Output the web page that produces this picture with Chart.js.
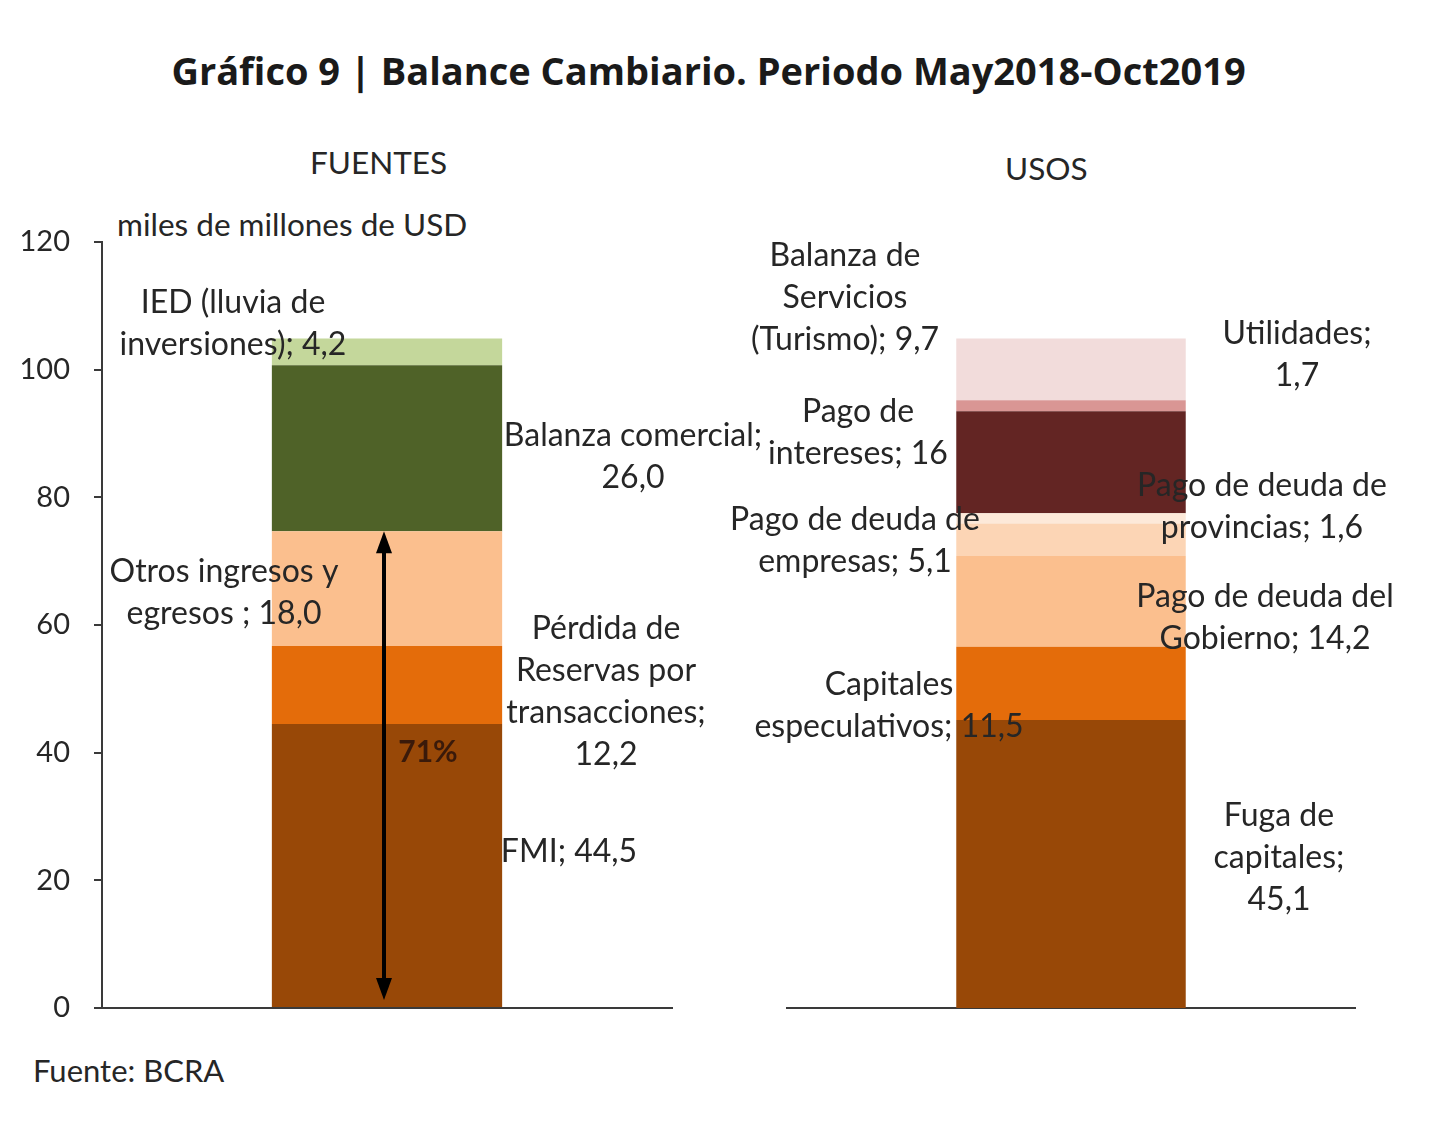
<!DOCTYPE html>
<html lang="es">
<head>
<meta charset="utf-8">
<script src="https://cdn.jsdelivr.net/npm/chart.js@4.4.1/dist/chart.umd.min.js"></script>
<style>
  html, body { margin: 0; padding: 0; background: #fff; }
  body { width: 1440px; height: 1137px; position: relative; overflow: hidden; font-family: Lato, sans-serif; color: #262626; }
  .wrap { position: absolute; left: 0; top: 0; width: 1440px; height: 1137px; }
  .txt { position: absolute; white-space: nowrap; line-height: 40px; }
  #title { left: 0; width: 1417px; top: 47px; text-align: center; font-family: 'Open Sans', sans-serif; font-weight: 700; font-size: 38px; color: #1a1a1a; line-height: 46px; }
  #fuentes { left: 310px; top: 142px; font-size: 31.5px; }
  #usos { left: 1005px; top: 148px; font-size: 31.5px; }
  #unit { left: 117px; top: 204px; font-size: 31.5px; }
  #source { left: 33px; top: 1050px; font-size: 31px; }
</style>
</head>
<body>
<div class="txt" id="title">Gráfico 9 | Balance Cambiario. Periodo May2018-Oct2019</div>
<div class="txt" id="fuentes">FUENTES</div>
<div class="txt" id="usos">USOS</div>
<div class="txt" id="unit">miles de millones de USD</div>
<div class="txt" id="source">Fuente: BCRA</div>
<div class="wrap"><canvas id="fuentesChart"></canvas></div>
<div class="wrap"><canvas id="usosChart"></canvas></div>
<script>
// Escala común (miles de millones de USD)
const yMax = 120;
const yStep = 20;

// FUENTES (de abajo hacia arriba)
const fuentesNames = ['FMI', 'Pérdida de Reservas por transacciones', 'Otros ingresos y egresos', 'Balanza comercial', 'IED (lluvia de inversiones)'];
const fuentesValues = [44.5, 12.2, 18.0, 26.0, 4.2];
const fuentesColors = ['#984807', '#e46c0a', '#fbbf8e', '#4f6228', '#c4d79b'];
const fuentesText = [
    ['FMI; 44,5'],
    ['Pérdida de', 'Reservas por', 'transacciones;', '12,2'],
    ['Otros ingresos y', 'egresos ; 18,0'],
    ['Balanza comercial;', '26,0'],
    ['IED (lluvia de', 'inversiones); 4,2']
];
const shareText = '71%';

// USOS (de abajo hacia arriba)
const usosNames = ['Fuga de capitales', 'Capitales especulativos', 'Pago de deuda del Gobierno', 'Pago de deuda de empresas', 'Pago de deuda de provincias', 'Pago de intereses', 'Utilidades', 'Balanza de Servicios (Turismo)'];
const usosValues = [45.1, 11.5, 14.2, 5.1, 1.6, 16, 1.7, 9.7];
const usosColors = ['#984807', '#e46c0a', '#fbbf8e', '#fcd5b5', '#fde9d9', '#632523', '#d99694', '#f2dcdb'];
const usosText = [
    ['Fuga de', 'capitales;', '45,1'],
    ['Capitales', 'especulativos; 11,5'],
    ['Pago de deuda del', 'Gobierno; 14,2'],
    ['Pago de deuda de', 'empresas; 5,1'],
    ['Pago de deuda de', 'provincias; 1,6'],
    ['Pago de', 'intereses; 16'],
    ['Utilidades;', '1,7'],
    ['Balanza de', 'Servicios', '(Turismo); 9,7']
];

// where each label sits: [x offset from bar centre in px, y value of the block centre]
const fuentesPlacement = [[182, 24.5], [219, 49.6], [-163, 65.1], [246, 86.3], [-154, 107.2]];
const usosPlacement = [[208, 23.5], [-182, 47.4], [194, 61.1], [-216, 73.2], [191, 78.5], [-213, 90.1], [226, 102.3], [-226, 111.2]];

const labelFont = "32px Lato, sans-serif";
const axisColor = '#3a3a3a';

const segmentLabels = {
    id: 'segmentLabels',
    afterDatasetsDraw(chart, args, opts) {
        const ctx = chart.ctx;
        const yScale = chart.scales.y;
        const barX = chart.getDatasetMeta(0).data[0].x;
        ctx.save();
        ctx.fillStyle = '#262626';
        ctx.textAlign = 'center';
        ctx.textBaseline = 'middle';
        ctx.font = labelFont;
        opts.text.forEach((lines, i) => {
            const [dx, yv] = opts.placement[i];
            const cy = yScale.getPixelForValue(yv);
            lines.forEach((line, j) => {
                ctx.fillText(line, barX + dx, cy + (j - (lines.length - 1) / 2) * opts.lineHeight);
            });
        });
        if (opts.share) {
            const from = yScale.getPixelForValue(0);
            const to = yScale.getPixelForValue(opts.share.upTo);
            const ax = barX - 3;
            ctx.strokeStyle = '#000';
            ctx.fillStyle = '#000';
            ctx.lineWidth = 4;
            ctx.beginPath();
            ctx.moveTo(ax, from - 16);
            ctx.lineTo(ax, to + 16);
            ctx.stroke();
            // arrow heads
            ctx.beginPath();
            ctx.moveTo(ax, to);
            ctx.lineTo(ax - 8, to + 22);
            ctx.lineTo(ax + 8, to + 22);
            ctx.closePath();
            ctx.fill();
            ctx.beginPath();
            ctx.moveTo(ax, from - 8);
            ctx.lineTo(ax - 8, from - 30);
            ctx.lineTo(ax + 8, from - 30);
            ctx.closePath();
            ctx.fill();
            ctx.font = "bold 30px Lato, sans-serif";
            ctx.fillStyle = '#3a1a0a';
            ctx.fillText(opts.share.text, barX + 41, yScale.getPixelForValue(opts.share.y));
        }
        ctx.restore();
    }
};

function buildDatasets(names, values, colors) {
    return names.map((name, i) => ({
        label: name,
        data: [values[i]],
        backgroundColor: colors[i],
        borderWidth: 0,
        categoryPercentage: 1,
        barPercentage: 0.404
    }));
}

function makeChart(canvasId, names, values, colors, text, placement, padding, showY, share) {
    const ctx = document.getElementById(canvasId).getContext('2d');
    return new Chart(ctx, {
        type: 'bar',
        data: {
            labels: [''],
            datasets: buildDatasets(names, values, colors)
        },
        options: {
            responsive: true,
            maintainAspectRatio: false,
            animation: false,
            layout: { padding: padding },
            plugins: {
                legend: { display: false },
                tooltip: { enabled: false },
                segmentLabels: { text: text, placement: placement, lineHeight: 42, share: share }
            },
            scales: {
                x: {
                    stacked: true,
                    grid: { display: false },
                    ticks: { display: false },
                    border: { display: true, color: axisColor, width: 2 }
                },
                y: {
                    stacked: true,
                    display: showY,
                    min: 0,
                    max: yMax,
                    ticks: {
                        stepSize: yStep,
                        padding: 24,
                        color: '#262626',
                        font: { family: 'Lato, sans-serif', size: 29 }
                    },
                    grid: { drawOnChartArea: false, drawTicks: true, tickLength: 8, color: axisColor, lineWidth: 2 },
                    border: { display: true, color: axisColor, width: 2 },
                    afterFit(scale) { if (showY) scale.width = 102; }
                }
            }
        },
        plugins: [segmentLabels]
    });
}

const coveredSum = fuentesValues[0] + fuentesValues[1] + fuentesValues[2];

makeChart('fuentesChart', fuentesNames, fuentesValues, fuentesColors, fuentesText, fuentesPlacement,
    { left: 0, top: 242, right: 768, bottom: 121 }, true,
    { upTo: coveredSum, text: shareText, y: 40.0 });

makeChart('usosChart', usosNames, usosValues, usosColors, usosText, usosPlacement,
    { left: 787, top: 242, right: 85, bottom: 121 }, false, null);
</script>
</body>
</html>
